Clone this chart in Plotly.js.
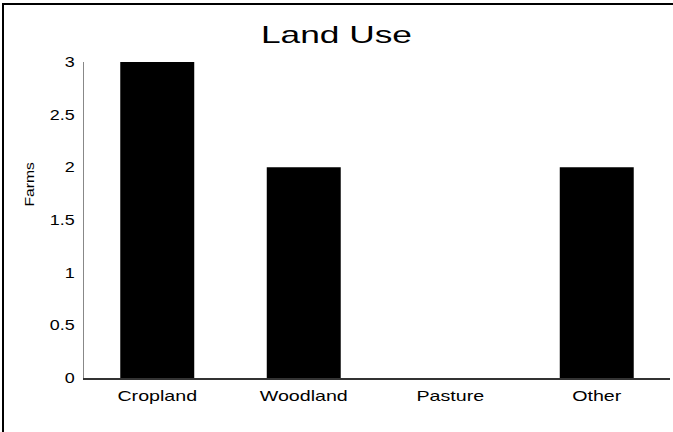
<!DOCTYPE html>
<html>
<head>
<meta charset="utf-8">
<script src="https://cdn.plot.ly/plotly-3.0.1.min.js"></script>
<style>
  html, body { margin: 0; padding: 0; background: #fff; overflow: hidden; }
  #wrap { position: relative; width: 673px; height: 432px; overflow: hidden; }
  #chart { width: 673px; height: 432px; }
  #frame { position: absolute; left: 2px; top: 3px; width: 690px; height: 450px;
           border-left: 2px solid #000; border-top: 2px solid #000; pointer-events: none; }
  #rmask { position: absolute; right: 0; top: 6px; width: 2px; height: 426px; background: #fff; }
</style>
</head>
<body>
<div id="wrap">
  <div id="chart"></div>
  <div id="frame"></div>
  <div id="rmask"></div>
</div>
<script>
const categories = ["Cropland", "Woodland", "Pasture", "Other"];
const farms = [3, 2, 0, 2];
const yTicks = [0, 0.5, 1, 1.5, 2, 2.5, 3];
const yTickText = ["0", "0.5", "1", "1.5", "2", "2.5", "3"];

const font = "Liberation Sans, Arial, sans-serif";

const data = [{
  type: "bar",
  x: categories,
  y: farms,
  marker: { color: "#000000", line: { width: 0 } },
  hoverinfo: "skip"
}];

const layout = {
  width: 673, height: 432,
  margin: { l: 84, r: 3, t: 62, b: 54 },
  paper_bgcolor: "#ffffff",
  plot_bgcolor: "#ffffff",
  showlegend: false,
  bargap: 0.495,
  font: { family: font, color: "#000", size: 14 },
  title: {
    text: "Land Use",
    font: { family: font, size: 24, color: "#000" },
    x: 0.5, xanchor: "center",
    y: 1 - 35 / 432, yref: "container", yanchor: "middle"
  },
  xaxis: {
    type: "category",
    showline: true, linecolor: "#333", linewidth: 1.5,
    showgrid: false, zeroline: false,
    ticks: "", ticklabelstandoff: 3,
    tickfont: { family: font, size: 15, color: "#000" }
  },
  yaxis: {
    range: [0, 3],
    tickvals: yTicks, ticktext: yTickText,
    showline: true, linecolor: "#888", linewidth: 1.5,
    showgrid: false, zeroline: false,
    ticks: "", ticklabelstandoff: 5,
    tickfont: { family: font, size: 14, color: "#000" }
  },
  annotations: [{
    text: "Farms",
    xref: "paper", yref: "paper",
    x: -0.092, y: 0.611,
    xanchor: "center", yanchor: "middle",
    textangle: -90, showarrow: false,
    font: { family: font, size: 12.5, color: "#000" }
  }]
};

function stretch(selector, factor) {
  document.querySelectorAll(selector).forEach(function (el) {
    const len = el.getComputedTextLength();
    if (len > 0) {
      el.setAttribute("textLength", (len * factor).toFixed(1));
      el.setAttribute("lengthAdjust", "spacingAndGlyphs");
    }
  });
}

Plotly.newPlot("chart", data, layout, { staticPlot: true, displayModeBar: false }).then(function () {
  stretch("#chart .gtitle", 1.47);
  stretch("#chart .xtick text", 1.31);
  stretch("#chart .ytick text", 1.28);
  stretch("#chart .annotation-text", 1.25);
});
</script>
</body>
</html>
